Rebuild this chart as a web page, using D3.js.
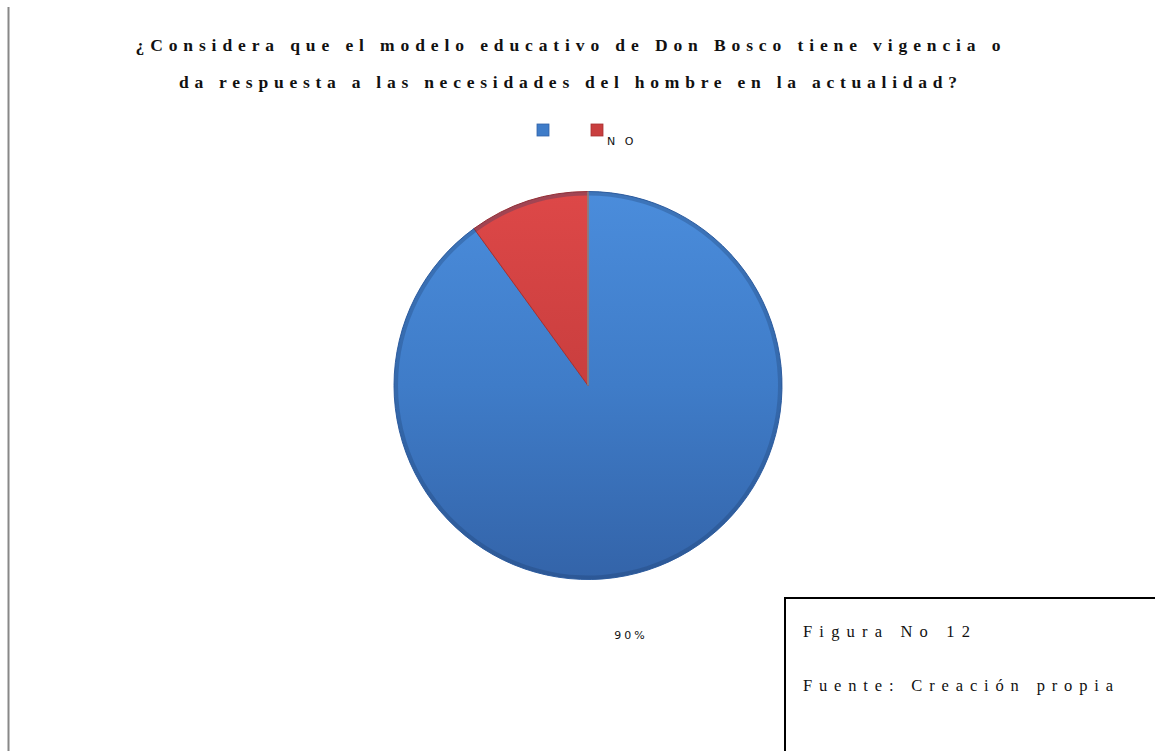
<!DOCTYPE html>
<html><head><meta charset="utf-8">
<script src="https://cdn.jsdelivr.net/npm/d3@7"></script>
<style>html,body{margin:0;padding:0;background:#fff;}svg{display:block;}</style>
</head><body>
<svg id="c" width="1155" height="751"></svg>
<script>
const categories = ["", "N O"];
const values = [90, 10];
const pctLabels = ["90%"];
const titleLines = ["¿Considera que el modelo educativo de Don Bosco tiene vigencia o",
                    "da respuesta a las necesidades del hombre en la actualidad?"];
const boxLines = ["Figura No 12", "Fuente: Creación propia"];
const colors = ["blue", "red"];

const svg = d3.select("#c");
const defs = svg.append("defs");
const grads = {blue: ["#4b8ddc", "#3f7cc8", "#3363a8"], red: ["#de4848", "#c93e3e", "#a83030"]};
Object.entries(grads).forEach(([k, c]) => {
  const g = defs.append("linearGradient").attr("id", "g-" + k)
    .attr("gradientUnits", "userSpaceOnUse").attr("x1", 0).attr("y1", -200).attr("x2", 0).attr("y2", 200);
  g.append("stop").attr("offset", "0%").attr("stop-color", c[0]);
  g.append("stop").attr("offset", "50%").attr("stop-color", c[1]);
  g.append("stop").attr("offset", "100%").attr("stop-color", c[2]);
});

// left vertical line
svg.append("line").attr("x1", 8.5).attr("x2", 8.5).attr("y1", 7).attr("y2", 751)
  .attr("stroke", "#888").attr("stroke-width", 2);

// title
const titleW = [865, 778];
titleLines.forEach((t, i) => {
  svg.append("text").attr("x", 568).attr("y", 51 + i * 37).attr("text-anchor", "middle")
    .attr("font-family", "Liberation Serif, serif").attr("font-weight", "bold").attr("font-size", 17.5)
    .attr("textLength", titleW[i]).attr("lengthAdjust", "spacing").attr("fill", "#111").text(t);
});

// legend
const legendX = d3.scalePoint().domain(categories.map((d, i) => i)).range([537, 591]);
categories.forEach((c, i) => {
  const x = legendX(i);
  svg.append("rect").attr("x", x).attr("y", 124).attr("width", 12).attr("height", 12)
    .attr("stroke", grads[colors[i]][2]).attr("stroke-width", 0.8)
    .attr("fill", grads[colors[i]][1]);
  if (c) svg.append("text").attr("x", x + 16).attr("y", 145).attr("font-family", "DejaVu Sans, sans-serif")
    .attr("font-size", 11).attr("letter-spacing", 3).attr("fill", "#111").text(c);
});

// pie
const cx = 588, cy = 385.5, r = 194;
const g = svg.append("g").attr("transform", `translate(${cx},${cy})`);
const pie = d3.pie().sort(null).value(d => d)(values);
const arc = d3.arc().innerRadius(0).outerRadius(r);
const arcEdge = d3.arc().innerRadius(r - 4).outerRadius(r);
g.selectAll("path.s").data(pie).join("path").attr("class", "s")
  .attr("d", arc).attr("fill", (d, i) => `url(#g-${colors[i]})`)
  .attr("stroke", (d, i) => grads[colors[i]][2]).attr("stroke-width", 1);
g.selectAll("path.e").data(pie).join("path").attr("class", "e")
  .attr("d", arcEdge).attr("fill", "#1f3f6e").attr("opacity", 0.3);
// separator highlight
g.append("line").attr("x1", 0).attr("y1", 0).attr("x2", 0).attr("y2", -r)
  .attr("stroke", "#8a8a8a").attr("stroke-width", 1.5);

// percentage label
svg.append("text").attr("x", 631).attr("y", 639).attr("text-anchor", "middle")
  .attr("font-family", "DejaVu Sans, sans-serif").attr("font-size", 11).attr("letter-spacing", 3)
  .attr("fill", "#111").text(pctLabels[0]);

// box
svg.append("path").attr("d", "M785,751 V598 H1155").attr("fill", "none")
  .attr("stroke", "#000").attr("stroke-width", 2);
const boxW = [167, 310];
boxLines.forEach((t, i) => {
  svg.append("text").attr("x", 803).attr("y", 637 + i * 54)
    .attr("font-family", "Liberation Serif, serif").attr("font-size", 16.5)
    .attr("textLength", boxW[i]).attr("lengthAdjust", "spacing").attr("fill", "#111").text(t);
});
</script>
</body></html>
